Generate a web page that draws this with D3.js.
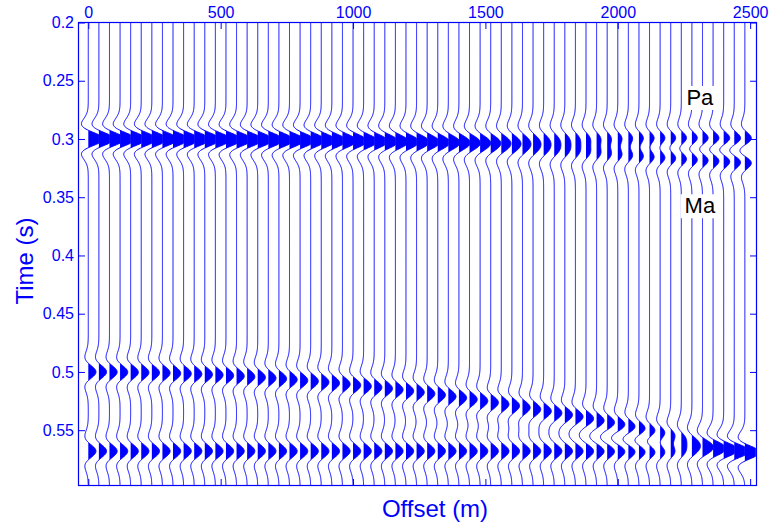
<!DOCTYPE html>
<html>
<head>
<meta charset="utf-8">
<script src="https://cdn.jsdelivr.net/npm/d3@7"></script>
<style>
  body { margin: 0; background: #fff; }
  text { font-family: "Liberation Sans", Arial, Helvetica, sans-serif; }
</style>
</head>
<body>
<script>
// trace offsets (m)
const offsets = [0,40,80,120,160,200,240,280,320,360,400,440,480,520,560,600,640,680,720,760,
  800,840,880,920,960,1000,1040,1080,1120,1160,1200,1240,1280,1320,1360,1400,1440,1480,1520,1560,
  1600,1640,1680,1720,1760,1800,1840,1880,1920,1960,2000,2040,2080,2120,2160,2200,2240,2280,2320,2360,
  2400,2440,2480];

// flat events (s): Pa and the deep one
const flatTimes = [0.3, 0.568];
const flatAmps = [1, 1];

// events with residual moveout, time per trace (s)
const maTimes = [0.3000,0.3000,0.3000,0.3001,0.3001,0.3001,0.3002,0.3003,0.3003,0.3004,0.3005,0.3006,
  0.3008,0.3009,0.3010,0.3012,0.3013,0.3015,0.3017,0.3019,0.3021,0.3023,0.3025,0.3028,0.3030,0.3033,
  0.3035,0.3038,0.3041,0.3044,0.3047,0.3050,0.3053,0.3057,0.3060,0.3064,0.3067,0.3071,0.3075,0.3079,
  0.3083,0.3088,0.3092,0.3096,0.3101,0.3105,0.3110,0.3115,0.3120,0.3125,0.3130,0.3135,0.3141,0.3146,
  0.3152,0.3157,0.3163,0.3169,0.3175,0.3181,0.3187,0.3194,0.3200];
const mbTimes = [0.5000,0.5000,0.5001,0.5002,0.5003,0.5005,0.5007,0.5009,0.5012,0.5015,0.5018,0.5022,
  0.5026,0.5031,0.5036,0.5041,0.5047,0.5053,0.5059,0.5066,0.5073,0.5080,0.5088,0.5096,0.5105,0.5114,
  0.5123,0.5133,0.5143,0.5153,0.5164,0.5175,0.5187,0.5198,0.5211,0.5223,0.5236,0.5249,0.5263,0.5277,
  0.5291,0.5306,0.5321,0.5337,0.5353,0.5369,0.5385,0.5402,0.5420,0.5437,0.5455,0.5474,0.5492,0.5512,
  0.5531,0.5551,0.5571,0.5592,0.5613,0.5634,0.5656,0.5678,0.5700];
const moveAmps = [1, 1];

const xTicks = [0, 500, 1000, 1500, 2000, 2500];
const yTicks = [0.2, 0.25, 0.3, 0.35, 0.4, 0.45, 0.5, 0.55];

const labels = [
  {name: "Pa", x: 2310, t: 0.2708},
  {name: "Ma", x: 2310, t: 0.3638}
];

const width = 769, height = 524;
const blue = "#0000ff";
const freq = 30;      // wavelet peak frequency (Hz)
const gain = 29;      // peak deflection, in offset units
const clip = 40;      // clip at one trace spacing

const x = d3.scaleLinear().domain([-37, 2524]).range([78.5, 756.5]);
const y = d3.scaleLinear().domain([0.2, 0.5975]).range([22.5, 485.5]);

const svg = d3.select("body").append("svg")
  .attr("width", width).attr("height", height);

svg.append("clipPath").attr("id", "plot")
  .append("rect")
  .attr("x", x.range()[0]).attr("y", y.range()[0])
  .attr("width", x.range()[1] - x.range()[0])
  .attr("height", y.range()[1] - y.range()[0]);

function ricker(t) {
  const a = Math.PI * Math.PI * freq * freq * t * t;
  return (1 - 2 * a) * Math.exp(-a);
}

const tgrid = d3.range(0.2, 0.5976, 0.0005);

const traces = offsets.map((off, i) => {
  const ev = [];
  flatTimes.forEach((t0, k) => ev.push([t0, flatAmps[k]]));
  ev.push([maTimes[i], moveAmps[0]]);
  ev.push([mbTimes[i], moveAmps[1]]);
  const pts = tgrid.map(t => {
    let v = 0;
    ev.forEach(([t0, a]) => { v += a * ricker(t - t0); });
    v = Math.max(-clip, Math.min(clip, v * gain));
    return {t, v};
  });
  return {off, pts};
});

const g = svg.append("g").attr("clip-path", "url(#plot)");

const tr = g.selectAll("g.trace")
  .data(traces)
  .enter().append("g").attr("class", "trace");

tr.append("path")
  .attr("fill", blue)
  .attr("d", d => d3.area()
    .y(p => y(p.t))
    .x0(x(d.off))
    .x1(p => x(d.off + Math.max(0, p.v)))(d.pts));

tr.append("path")
  .attr("fill", "none")
  .attr("stroke", blue)
  .attr("stroke-width", 1)
  .attr("d", d => d3.line()
    .x(p => x(d.off + p.v))
    .y(p => y(p.t))(d.pts));

// axes
const tick = -6.5;
const fmt = d => String(+d.toFixed(2));

svg.append("g").attr("transform", `translate(0,${y.range()[0]})`)
  .call(d3.axisTop(x).tickValues(xTicks).tickSize(tick).tickPadding(4.5).tickFormat(fmt));
svg.append("g").attr("transform", `translate(0,${y.range()[1]})`)
  .call(d3.axisBottom(x).tickValues(xTicks).tickSize(tick).tickFormat(""));
svg.append("g").attr("transform", `translate(${x.range()[0]},0)`)
  .call(d3.axisLeft(y).tickValues(yTicks).tickSize(tick).tickPadding(4.5).tickFormat(fmt));
svg.append("g").attr("transform", `translate(${x.range()[1]},0)`)
  .call(d3.axisRight(y).tickValues(yTicks).tickSize(tick).tickFormat(""));

svg.selectAll(".domain").remove();
svg.selectAll(".tick line").attr("stroke", blue);
svg.selectAll(".tick text").attr("fill", blue).attr("font-size", 16)
  .attr("font-family", "Liberation Sans, Arial, sans-serif");

svg.append("rect")
  .attr("x", x.range()[0]).attr("y", y.range()[0])
  .attr("width", x.range()[1] - x.range()[0])
  .attr("height", y.range()[1] - y.range()[0])
  .attr("fill", "none").attr("stroke", blue).attr("stroke-width", 1.2);

svg.append("text")
  .attr("x", 435).attr("y", 517)
  .attr("text-anchor", "middle")
  .attr("font-size", 24).attr("fill", blue)
  .text("Offset (m)");

svg.append("text")
  .attr("transform", "translate(33,261) rotate(-90)")
  .attr("text-anchor", "middle")
  .attr("font-size", 24).attr("fill", blue)
  .text("Time (s)");

// event labels on white boxes
labels.forEach(l => {
  const gl = svg.append("g");
  const bx = gl.append("rect").attr("fill", "#fff");
  const tx = gl.append("text")
    .attr("x", x(l.x)).attr("y", y(l.t))
    .attr("text-anchor", "middle")
    .attr("font-size", 22).attr("fill", "#000")
    .text(l.name);
  const b = tx.node().getBBox();
  bx.attr("x", b.x - 4).attr("y", b.y + 1)
    .attr("width", b.width + 8).attr("height", b.height - 1);
});
</script>
</body>
</html>
